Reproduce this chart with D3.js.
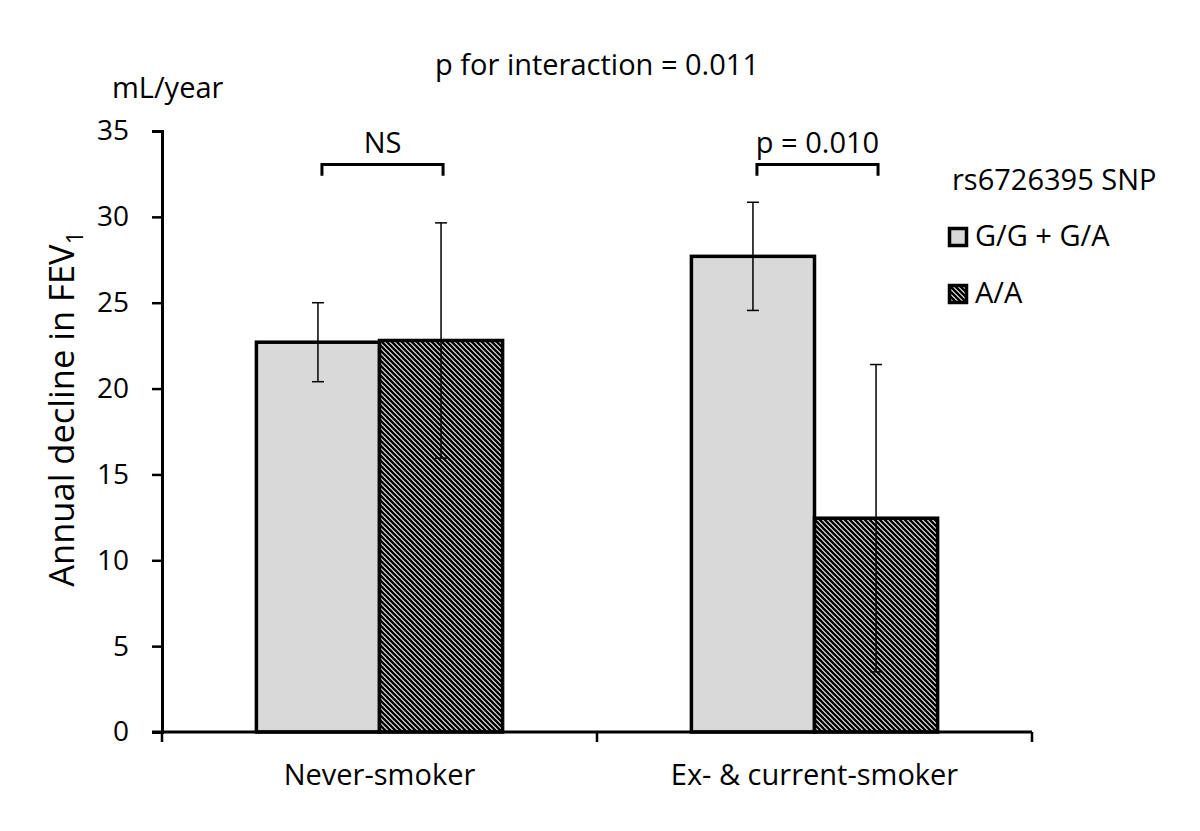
<!DOCTYPE html>
<html>
<head>
<meta charset="utf-8">
<script src="https://cdn.jsdelivr.net/npm/d3@7"></script>
<style>
  body { margin: 0; background: #fff; }
  text { font-family: "Open Sans", "Noto Sans", sans-serif; fill: #000; }
</style>
</head>
<body>
<svg id="chart"></svg>
<script>
// data
const categories = ['Never-smoker', 'Ex- & current-smoker'];
const genotypes = ['G/G + G/A', 'A/A'];
const means = [[22.7, 22.8], [27.7, 12.45]];
const errors = [[2.3, 6.85], [3.15, 8.95]];
const pLabels = ['NS', 'p = 0.010'];
const yTicks = [0, 5, 10, 15, 20, 25, 30, 35];

const width = 1200, height = 831;
const margin = { top: 131, right: 168, bottom: 99, left: 162 };
const fs = 29;

const svg = d3.select('#chart').attr('width', width).attr('height', height);

// 빗금 패턴
const defs = svg.append('defs');
const pat = defs.append('pattern')
  .attr('id', 'hatch')
  .attr('patternUnits', 'userSpaceOnUse')
  .attr('width', 5).attr('height', 5);
pat.append('rect').attr('width', 5).attr('height', 5).attr('fill', '#fff');
pat.append('path')
  .attr('d', 'M-1,-1 L6,6 M-1,4 L1,6 M4,-1 L6,1')
  .attr('stroke', '#000').attr('stroke-width', 2.6);

const fills = ['#d9d9d9', 'url(#hatch)'];

// scales
const x0 = d3.scaleBand()
  .domain(categories)
  .range([margin.left, width - margin.right]);

const x1 = d3.scaleBand()
  .domain(genotypes)
  .range([0, x0.bandwidth() * 0.566]);

const groupOffset = (x0.bandwidth() - x1.range()[1]) / 2;

const y = d3.scaleLinear()
  .domain([0, 35])
  .range([height - margin.bottom, margin.top]);

const rows = [];
categories.forEach((c, i) => genotypes.forEach((g, j) => {
  rows.push({ c, g, i, j, v: means[i][j], e: errors[i][j] });
}));

const barX = d => x0(d.c) + groupOffset + x1(d.g);

// bars
svg.selectAll('.bar')
  .data(rows)
  .enter()
  .append('rect')
  .attr('class', 'bar')
  .attr('x', barX)
  .attr('y', d => y(d.v))
  .attr('width', x1.bandwidth())
  .attr('height', d => y(0) - y(d.v))
  .attr('fill', d => fills[d.j])
  .attr('stroke', '#000')
  .attr('stroke-width', 3.5);

// error bars
const eb = svg.selectAll('.err')
  .data(rows)
  .enter()
  .append('g')
  .attr('class', 'err')
  .attr('stroke', '#000')
  .attr('stroke-width', 1.5);
const cx = d => barX(d) + x1.bandwidth() / 2;
eb.append('line')
  .attr('x1', cx).attr('x2', cx)
  .attr('y1', d => y(d.v + d.e)).attr('y2', d => y(d.v - d.e));
eb.append('line')
  .attr('x1', d => cx(d) - 6).attr('x2', d => cx(d) + 6)
  .attr('y1', d => y(d.v + d.e)).attr('y2', d => y(d.v + d.e));
eb.append('line')
  .attr('x1', d => cx(d) - 6).attr('x2', d => cx(d) + 6)
  .attr('y1', d => y(d.v - d.e)).attr('y2', d => y(d.v - d.e));

// axes
const yAxis = svg.append('g')
  .attr('transform', `translate(${margin.left},0)`)
  .call(d3.axisLeft(y).tickValues(yTicks).tickSize(10).tickPadding(23));
yAxis.select('.domain').attr('stroke-width', 3);
yAxis.selectAll('.tick line').attr('stroke-width', 2.5);
yAxis.selectAll('.tick text').attr('font-size', 28).attr('font-family', '"Open Sans", sans-serif');

const xAxis = svg.append('g')
  .attr('transform', `translate(0,${y(0)})`);
xAxis.append('line')
  .attr('x1', margin.left - 10).attr('x2', width - margin.right)
  .attr('stroke', '#000').attr('stroke-width', 3);
const bounds = [margin.left, ...categories.map(c => x0(c) + x0.bandwidth())];
xAxis.selectAll('.xt')
  .data(bounds)
  .enter()
  .append('line')
  .attr('x1', d => d).attr('x2', d => d)
  .attr('y1', 0).attr('y2', 10)
  .attr('stroke', '#000').attr('stroke-width', 2.5);
xAxis.selectAll('.xl')
  .data(categories)
  .enter()
  .append('text')
  .attr('x', d => x0(d) + x0.bandwidth() / 2)
  .attr('y', 53)
  .attr('text-anchor', 'middle')
  .attr('font-size', fs)
  .text(d => d);

// significance brackets
const br = svg.selectAll('.br')
  .data(categories)
  .enter()
  .append('g');
const bx1 = c => x0(c) + groupOffset + x1(genotypes[0]) + x1.bandwidth() / 2 + 4;
const bx2 = c => x0(c) + groupOffset + x1(genotypes[1]) + x1.bandwidth() / 2 + 2;
br.append('path')
  .attr('d', c => `M${bx1(c)},${y(32.4)} V${y(33.05)} H${bx2(c)} V${y(32.4)}`)
  .attr('fill', 'none').attr('stroke', '#000').attr('stroke-width', 3);
br.append('text')
  .attr('x', c => (bx1(c) + bx2(c)) / 2)
  .attr('y', 153)
  .attr('text-anchor', 'middle')
  .attr('font-size', fs)
  .text((c, i) => pLabels[i]);

// titles
svg.append('text')
  .attr('x', x0(categories[1]))
  .attr('y', 75)
  .attr('text-anchor', 'middle')
  .attr('font-size', fs)
  .text('p for interaction = 0.011');

svg.append('text')
  .attr('x', 112).attr('y', 98)
  .attr('font-size', fs)
  .text('mL/year');

const yl = svg.append('text')
  .attr('transform', 'translate(74,409) rotate(-90)')
  .attr('text-anchor', 'middle')
  .attr('font-size', 34.5);
yl.append('tspan').text('Annual decline in FEV');
yl.append('tspan').attr('font-size', 23).attr('dy', 9).text('1');

// legend
const lg = svg.append('g').attr('transform', 'translate(948,0)');
lg.append('text').attr('x', 4).attr('y', 190).attr('font-size', fs).text('rs6726395 SNP');
const li = lg.selectAll('.li')
  .data(genotypes)
  .enter()
  .append('g')
  .attr('transform', (d, i) => `translate(0,${237 + i * 57})`);
li.append('rect')
  .attr('x', 1.5).attr('y', -8.5)
  .attr('width', 17).attr('height', 17)
  .attr('fill', (d, i) => fills[i])
  .attr('stroke', '#000').attr('stroke-width', 3.5);
li.append('text')
  .attr('x', 27).attr('y', 9)
  .attr('font-size', fs)
  .text(d => d);
</script>
</body>
</html>
